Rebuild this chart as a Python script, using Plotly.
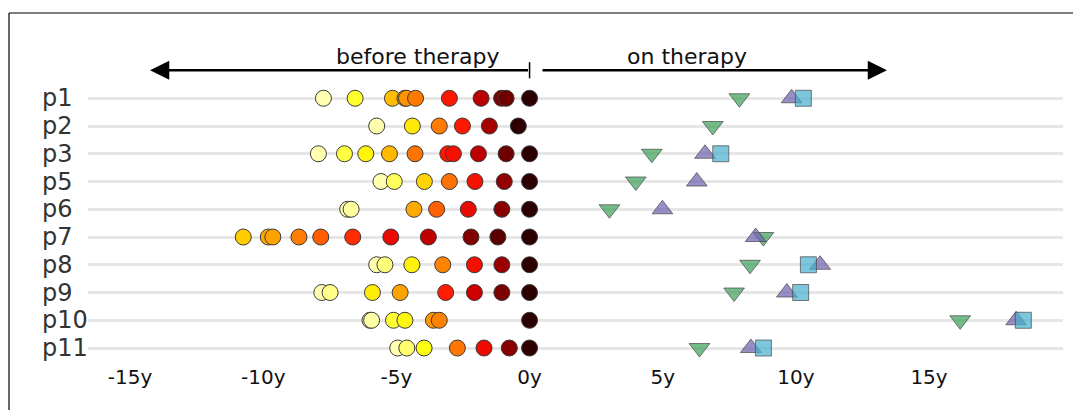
import plotly.graph_objects as go

# ── Data ──────────────────────────────────────────────────────────────────────
patients = ["p1", "p2", "p3", "p5", "p6", "p7", "p8", "p9", "p10", "p11"]

# sample times before therapy (years, relative to therapy start)
before = [
    [-7.74, -6.55, -5.15, -4.68, -4.62, -4.28, -3.01, -1.82, -1.05, -0.88, 0.0],
    [-5.74, -4.40, -3.39, -2.52, -1.51, -0.42],
    [-7.93, -6.95, -6.15, -5.26, -4.30, -3.07, -2.86, -1.92, -0.88, 0.0],
    [-5.58, -5.08, -3.95, -3.01, -2.05, -0.95, 0.0],
    [-6.83, -6.70, -4.34, -3.49, -2.30, -1.04, 0.0],
    [-10.75, -9.81, -9.64, -8.66, -7.84, -6.64, -5.21, -3.80, -2.20, -1.19, 0.0],
    [-5.74, -5.43, -4.42, -3.26, -2.07, -1.04, 0.0],
    [-7.80, -7.49, -5.90, -4.86, -3.15, -2.07, -1.04, 0.0],
    [-5.99, -5.93, -5.11, -4.68, -3.61, -3.39, 0.0],
    [-4.95, -4.61, -3.96, -2.71, -1.71, -0.76, 0.0],
]
# start of the colour ramp per patient (earliest known sample)
first_sample = [-7.74, -5.74, -7.93, -5.58, -6.83, -15.5, -5.74, -7.80, -5.99, -4.95]

# events on therapy (years)
on_down = [7.88, 6.88, 4.59, 3.99, 3.00, 8.78, 8.28, 7.68, 16.17, 6.38]
on_up = [9.84, None, 6.59, 6.28, 4.99, 8.49, 10.91, 9.66, 18.27, 8.31]
on_square = [10.28, None, 7.18, None, None, None, 10.47, 10.18, 18.54, 8.78]

tick_vals = [-15, -10, -5, 0, 5, 10, 15]
tick_text = ["-15y", "-10y", "-5y", "0y", "5y", "10y", "15y"]

# ── Style ─────────────────────────────────────────────────────────────────────
FONT = "DejaVu Sans"
HOT_R = [
    [0.0, "#ffffaf"], [0.1, "#ffff50"], [0.2, "#ffff10"], [0.3, "#ffd000"],
    [0.4, "#ff9500"], [0.5, "#ff5a00"], [0.6, "#ff1a00"], [0.7, "#e00000"],
    [0.8, "#a50000"], [0.9, "#680000"], [1.0, "#2c0000"],
]
_GREEN = "rgba(60,160,90,0.7)"
_PURPLE = "rgba(110,95,175,0.7)"
_BLUE = "rgba(70,175,205,0.7)"
_EDGE = "rgba(70,70,70,0.7)"

# page has an 8px body margin: keep the figure inside the window
W, H = 1065, 402
L, R, T, B = 80, 10, 22, 47
X_RANGE = [-16.58, 20.03]
Y_RANGE = [9.54, -2.46]

# ── Build points ──────────────────────────────────────────────────────────────
xs, ys, shade = [], [], []
for i, times in enumerate(before):
    lo, hi = first_sample[i], max(times)
    for t in times:
        xs.append(t)
        ys.append(i)
        shade.append((t - lo) / (hi - lo))

rows = list(range(len(patients)))

fig = go.Figure()
fig.add_trace(go.Scatter(
    x=xs, y=ys, mode="markers",
    marker=dict(size=16, color=shade, colorscale=HOT_R, cmin=0, cmax=1,
                line=dict(color="#3a3a3a", width=1)),
    hovertemplate="%{x:.1f}y<extra></extra>",
))
for vals, sym, col, sz in [(on_down, "triangle-down", _GREEN, 18),
                           (on_up, "triangle-up", _PURPLE, 18),
                           (on_square, "square", _BLUE, 16)]:
    fig.add_trace(go.Scatter(
        x=vals, y=rows, mode="markers",
        marker=dict(size=sz, symbol=sym, color=col,
                    line=dict(color=_EDGE, width=1)),
        hovertemplate="%{x:.1f}y<extra></extra>",
    ))

pw, ph = W - L - R, H - T - B

# ── Row labels (left aligned) ─────────────────────────────────────────────────
for i, p in enumerate(patients):
    fig.add_annotation(
        text=p, x=(32 - L) / pw, xref="paper", y=i, yref="y",
        xanchor="left", yanchor="middle", showarrow=False,
        font=dict(family=FONT, size=24, color="#333"),
    )

# ── Arrows + captions ─────────────────────────────────────────────────────────
ARROW_Y = -1.01
fig.add_annotation(x=-14.25, y=ARROW_Y, ax=0, ay=ARROW_Y, xref="x", yref="y",
                   axref="x", ayref="y", text="", showarrow=True, arrowhead=2,
                   arrowsize=1.6, arrowwidth=2.4, arrowcolor="black")
fig.add_annotation(x=13.42, y=ARROW_Y, ax=0.43, ay=ARROW_Y, xref="x", yref="y",
                   axref="x", ayref="y", text="", showarrow=True, arrowhead=2,
                   arrowsize=1.6, arrowwidth=2.4, arrowcolor="black")
fig.add_shape(type="line", x0=0, x1=0, y0=-1.30, y1=-0.72, xref="x", yref="y",
              line=dict(color="black", width=1.5))
fig.add_annotation(text="before therapy", x=-4.19, y=-1.52, xref="x", yref="y",
                   showarrow=False, font=dict(family=FONT, size=22, color="#111"))
fig.add_annotation(text="on therapy", x=5.91, y=-1.52, xref="x", yref="y",
                   showarrow=False, font=dict(family=FONT, size=22, color="#111"))

# ── Figure frame: left and top edges only ─────────────────────────────────────
fx, fy = (1 - L) / pw, 1 + (T - 5) / ph
x_edge, y_edge = 1 + R / pw, -B / ph
fig.add_shape(type="line", xref="paper", yref="paper", x0=fx, x1=fx,
              y0=y_edge, y1=fy, line=dict(color="black", width=1.2), layer="below")
fig.add_shape(type="line", xref="paper", yref="paper", x0=fx, x1=x_edge,
              y0=fy, y1=fy, line=dict(color="black", width=1.2), layer="below")

fig.update_layout(
    width=W, height=H,
    margin=dict(l=L, r=R, t=T, b=B),
    paper_bgcolor="white", plot_bgcolor="white",
    showlegend=False,
    font=dict(family=FONT, size=20, color="#111"),
    xaxis=dict(range=X_RANGE, tickvals=tick_vals, ticktext=tick_text,
               showgrid=False, zeroline=False, showline=False, ticks="",
               tickfont=dict(family=FONT, size=20, color="#111")),
    yaxis=dict(range=Y_RANGE, tickvals=rows, showticklabels=False,
               showgrid=True, gridcolor="#e6e6e6", gridwidth=2.5,
               zeroline=False, showline=False),
)

fig.write_html("out.html")
